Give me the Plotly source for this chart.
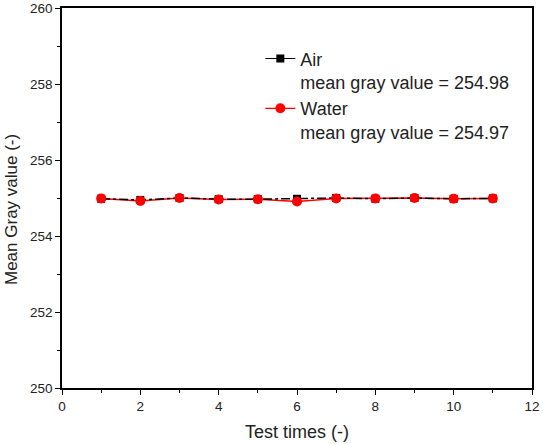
import plotly.graph_objects as go

test_times = [1, 2, 3, 4, 5, 6, 7, 8, 9, 10, 11]
air_values = [254.98, 254.95, 255.00, 254.97, 254.97, 254.98, 255.00, 254.98, 255.00, 254.98, 254.99]
water_values = [254.99, 254.92, 255.00, 254.96, 254.97, 254.91, 254.99, 254.99, 255.00, 254.98, 254.99]
air_label = "Air<br>mean gray value = 254.98"
water_label = "Water<br>mean gray value = 254.97"
x_title = "Test times (-)"
y_title = "Mean Gray value (-)"

FONT = "Arial, Liberation Sans, sans-serif"

fig = go.Figure()
fig.add_trace(go.Scatter(x=test_times, y=water_values, mode="lines",
                         line=dict(color="#ff0000", width=1.5), showlegend=False, hoverinfo="skip"))
fig.add_trace(go.Scatter(x=test_times, y=air_values, mode="lines+markers",
                         line=dict(color="black", width=1.5, dash="dashdot"),
                         marker=dict(symbol="square", size=8, color="black"), showlegend=False))
fig.add_trace(go.Scatter(x=test_times, y=water_values, mode="markers",
                         marker=dict(symbol="circle", size=10, color="#ff0000"), showlegend=False))
fig.add_trace(go.Scatter(x=[None], y=[None], mode="lines+markers", name=air_label,
                         line=dict(color="black", width=1.2),
                         marker=dict(symbol="square", size=8, color="black")))
fig.add_trace(go.Scatter(x=[None], y=[None], mode="lines+markers", name=water_label,
                         line=dict(color="#ff0000", width=1.2),
                         marker=dict(symbol="circle", size=10, color="#ff0000")))

axis_common = dict(showline=True, linecolor="black", linewidth=1.5, mirror=True,
                   ticks="outside", ticklen=5, tickwidth=1, tickcolor="black",
                   showgrid=False, zeroline=False, automargin=False,
                   tickfont=dict(family=FONT, size=13.5, color="#222"))

fig.update_xaxes(range=[0, 12], dtick=2, tick0=0,
                 minor=dict(dtick=1, ticks="outside", ticklen=3, tickcolor="black"),
                 title=dict(text=x_title, font=dict(family=FONT, size=18, color="#222"), standoff=12),
                 **axis_common)
fig.update_yaxes(range=[250, 260], dtick=2, tick0=250,
                 minor=dict(dtick=1, ticks="outside", ticklen=3, tickcolor="black"),
                 **axis_common)

fig.add_annotation(text=y_title, textangle=-90, xref="paper", yref="paper",
                   x=-(62 - 11) / 470, y=(388 - 210) / 380, xanchor="center", yanchor="middle",
                   showarrow=False, font=dict(family=FONT, size=17, color="#222"))

fig.update_layout(
    width=545, height=444,
    margin=dict(l=62, r=13, t=8, b=56),
    plot_bgcolor="white", paper_bgcolor="white",
    legend=dict(x=0.422, y=0.915, xanchor="left", yanchor="top", valign="top",
                bgcolor="rgba(0,0,0,0)", font=dict(family=FONT, size=18, color="#222"),
                tracegroupgap=0, itemwidth=30),
)

fig.write_html("out.html")
